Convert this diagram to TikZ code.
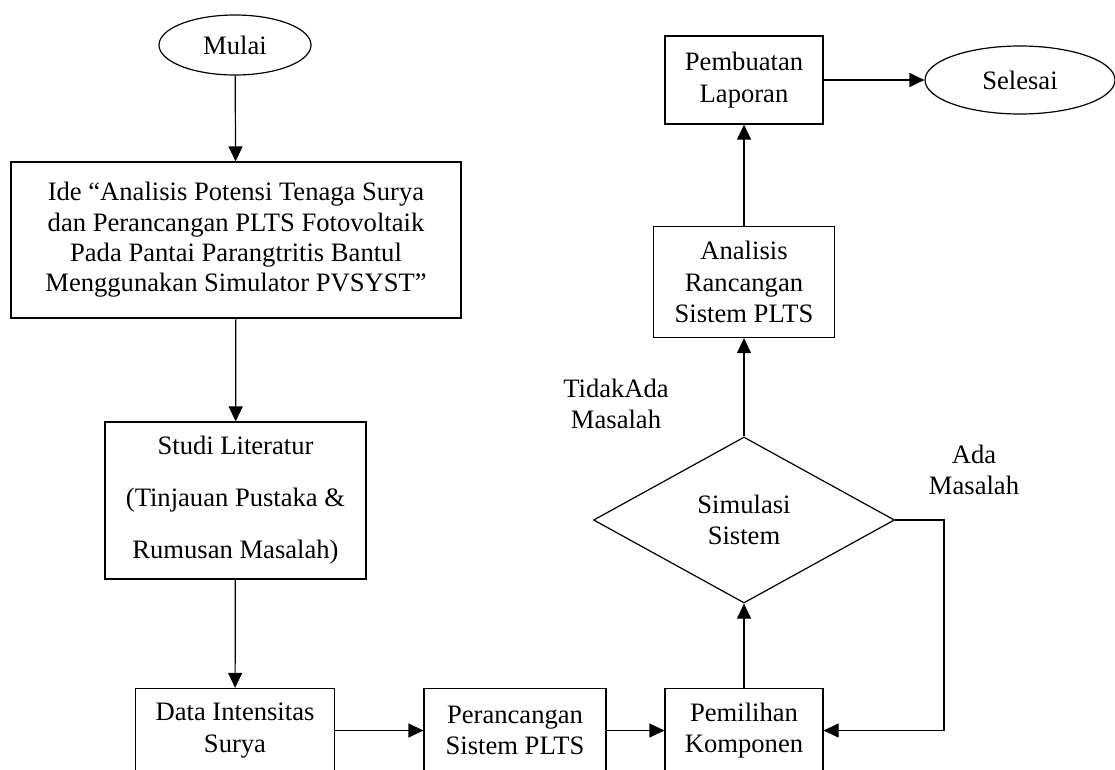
\documentclass[tikz,border=0pt]{standalone}
\usepackage{fontspec}
\setmainfont{Liberation Serif}
\usetikzlibrary{shapes.geometric,arrows.meta}
\begin{document}
\begin{tikzpicture}[x=1pt,y=-1pt,
  every node/.style={inner sep=0pt, font=\fontsize{26.6}{31.5}\selectfont, align=center},
  procbox/.style={draw, line width=1.2pt, rectangle},
  termnode/.style={draw, line width=1.2pt, ellipse},
  decision/.style={draw, line width=1.2pt, diamond, minimum width=301pt, minimum height=166pt},
  flow/.style={line width=1.2pt, -{Triangle[length=15pt,width=14pt]}},
  lbl/.style={}
]
\useasboundingbox (0,0) rectangle (1115,769);
\clip (0,0) rectangle (1115,769);

\node[termnode, minimum width=152pt, minimum height=60pt] (mulai) at (235,45) {Mulai};
\node[procbox, minimum width=450pt, minimum height=156pt,
      font=\fontsize{26.6}{30.4}\selectfont] (ide) at (236,240)
  {Ide “Analisis Potensi Tenaga Surya\\dan Perancangan PLTS Fotovoltaik\\Pada Pantai Parangtritis Bantul\\Menggunakan Simulator PVSYST”};
\node[procbox, minimum width=261pt, minimum height=157pt,
      font=\fontsize{26.6}{52}\selectfont] (studi) at (235.5,500.5)
  {Studi Literatur\\(Tinjauan Pustaka \&\\Rumusan Masalah)};
\node[procbox, minimum width=199pt, minimum height=84pt] (data) at (235,730.5)
  {Data Intensitas\\Surya};
\node[procbox, minimum width=182pt, minimum height=84pt] (ranc) at (515,730.5)
  {Perancangan\\Sistem PLTS};
\node[procbox, minimum width=158pt, minimum height=84pt] (pilih) at (744,730.5)
  {Pemilihan\\Komponen};
\node[decision] (sim) at (744,520) {Simulasi\\Sistem};
\node[procbox, minimum width=181pt, minimum height=111pt] (anal) at (744,282)
  {Analisis\\Rancangan\\Sistem PLTS};
\node[procbox, minimum width=158pt, minimum height=88pt] (buat) at (744,80)
  {Pembuatan\\Laporan};
\node[termnode, minimum width=190pt, minimum height=68pt] (selesai) at (1020,80) {Selesai};

\node[lbl] (tidak) at (616,404) {TidakAda\\Masalah};
\node[lbl] (ada) at (974,470) {Ada\\Masalah};
\coordinate (turn) at (944,520);

\draw[flow] (mulai) -- (ide);
\draw[flow] (ide) -- (studi);
\draw[flow] (studi) -- (data);
\draw[flow] (data) -- (ranc);
\draw[flow] (ranc) -- (pilih);
\draw[flow] (pilih) -- (sim);
\draw[flow] (sim) -- (anal);
\draw[flow] (anal) -- (buat);
\draw[flow] (buat) -- (selesai);
\draw[flow] (sim.east) -- (turn) |- (pilih.east);
\end{tikzpicture}
\end{document}
